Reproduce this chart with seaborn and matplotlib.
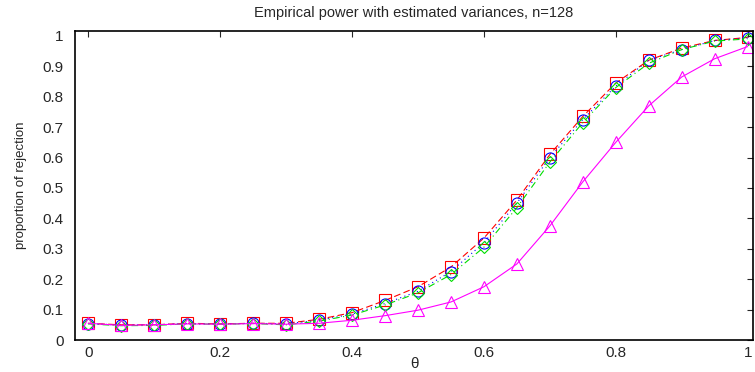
import numpy as np
import pandas as pd
import seaborn as sns
import matplotlib.pyplot as plt

theta = [0, 0.05, 0.1, 0.15, 0.2, 0.25, 0.3, 0.35, 0.4, 0.45, 0.5,
         0.55, 0.6, 0.65, 0.7, 0.75, 0.8, 0.85, 0.9, 0.95, 1.0]
red_sq = [0.055, 0.05, 0.05, 0.055, 0.053, 0.055, 0.055, 0.068, 0.09, 0.13, 0.175,
          0.24, 0.335, 0.46, 0.61, 0.735, 0.845, 0.92, 0.96, 0.985, 0.995]
blue_o = [0.054, 0.049, 0.05, 0.054, 0.052, 0.055, 0.053, 0.065, 0.085, 0.12, 0.16,
          0.225, 0.32, 0.45, 0.60, 0.725, 0.835, 0.92, 0.955, 0.985, 0.993]
green_d = [0.053, 0.047, 0.048, 0.053, 0.052, 0.054, 0.05, 0.062, 0.082, 0.115, 0.155,
           0.215, 0.305, 0.435, 0.585, 0.715, 0.83, 0.91, 0.955, 0.983, 0.99]
mag_tri = [0.055, 0.048, 0.05, 0.053, 0.052, 0.054, 0.052, 0.055, 0.065, 0.08, 0.098,
           0.125, 0.175, 0.25, 0.375, 0.52, 0.65, 0.77, 0.865, 0.925, 0.965]

sns.set_style("white")
plt.rcParams['font.family'] = ['Liberation Sans', 'DejaVu Sans']

fig = plt.figure(figsize=(7.55, 3.72), dpi=100)
ax = fig.add_axes([0.0993, 0.086, 0.898, 0.8306])

series = [
    (red_sq, 'red', (0, (6, 3)), 's'),
    (blue_o, 'blue', (0, (1, 3)), 'o'),
    (green_d, '#00dd00', (0, (6, 3, 1, 3)), 'D'),
    (mag_tri, 'magenta', '-', '^'),
]
for vals, col, ls, mk in series:
    df = pd.DataFrame({'theta': theta, 'p': vals})
    sns.lineplot(data=df, x='theta', y='p', ax=ax, color=col, linestyle=ls,
                 linewidth=0.8, marker=mk, markersize=8 if mk != 'D' else 6.5)
    # seaborn defaults to filled markers with white edge; make them hollow
    ln = ax.lines[-1]
    ln.set_markerfacecolor('none')
    ln.set_markeredgecolor(col)
    ln.set_markeredgewidth(0.8)

ax.set_xlim(-0.02, 1.008)
ax.set_ylim(0, 1.016)
ax.set_xticks([0, 0.2, 0.4, 0.6, 0.8, 1])
ax.set_xticklabels(['0', '0.2', '0.4', '0.6', '0.8', '1'])
ax.set_yticks(np.arange(0, 1.01, 0.1))
ax.set_yticklabels(['0'] + ['%.1f' % v for v in np.arange(0.1, 0.95, 0.1)] + ['1'])
ax.tick_params(direction='in', top=True, right=True, length=4, width=0.8,
               labelsize=11)
ax.tick_params(axis='x', pad=4)
ax.tick_params(axis='y', pad=8)
for s in ax.spines.values():
    s.set_linewidth(1.2)
    s.set_color('black')
ax.set_xlabel('θ', fontsize=11, labelpad=-2)
ax.set_ylabel('proportion of rejection', fontsize=9.5, labelpad=11)
ax.set_title('Empirical power with estimated variances, n=128', fontsize=10.5, pad=10)

fig.savefig('out.png', dpi=100)
